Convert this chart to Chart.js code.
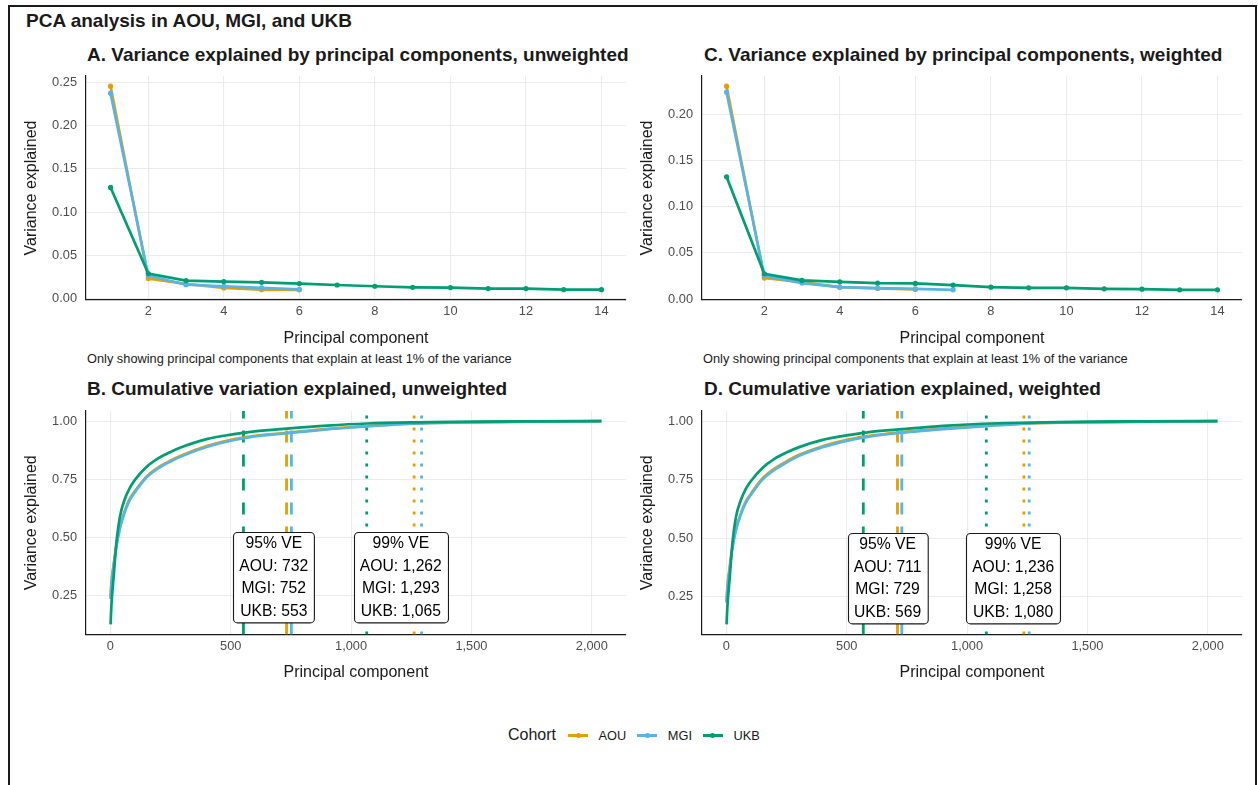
<!DOCTYPE html>
<html>
<head>
<meta charset="utf-8">
<title>PCA analysis in AOU, MGI, and UKB</title>
<script src="https://cdn.jsdelivr.net/npm/chart.js@4.4.1/dist/chart.umd.min.js"></script>
<style>
    html, body { margin: 0; padding: 0; background: #fff; }
    body {
        width: 1258px; height: 785px; position: relative; overflow: hidden;
        font-family: "Liberation Sans", Arial, sans-serif; color: #1a1a1a;
    }
    .frame {
        position: absolute; left: 8px; top: 5px; width: 1249px; height: 820px;
        border: 2px solid #1a1a1a; box-sizing: border-box;
    }
    .txt { position: absolute; white-space: nowrap; }
    .main-title { left: 26px; top: 10px; font-size: 19px; font-weight: bold; line-height: 22px; }
    .panel-title { font-size: 19px; font-weight: bold; line-height: 22px; }
    .note { font-size: 12.8px; line-height: 16px; }
    canvas { position: absolute; }
    .legend {
        position: absolute; left: 508px; top: 724px; height: 22px;
        display: flex; align-items: center;
    }
    .legend .leg-title { font-size: 16px; margin-right: 12px; }
    .legend .leg-label { font-size: 12.8px; margin-right: 11px; }
    .legend .key { position: relative; width: 20px; height: 3px; margin-right: 10.5px; }
    .legend .key i {
        position: absolute; left: 7.5px; top: -1px; width: 5px; height: 5px;
        border-radius: 50%; background: inherit;
    }
</style>
</head>
<body>
<div class="frame"></div>
<div class="txt main-title">PCA analysis in AOU, MGI, and UKB</div>

<div class="txt panel-title" style="left:87px; top:44px;">A. Variance explained by principal components, unweighted</div>
<div class="txt panel-title" style="left:704px; top:44px;">C. Variance explained by principal components, weighted</div>
<div class="txt note" style="left:87px; top:351px;">Only showing principal components that explain at least 1% of the variance</div>
<div class="txt note" style="left:703px; top:351px;">Only showing principal components that explain at least 1% of the variance</div>
<div class="txt panel-title" style="left:87px; top:378px;">B. Cumulative variation explained, unweighted</div>
<div class="txt panel-title" style="left:704px; top:378px;">D. Cumulative variation explained, weighted</div>

<canvas id="chart-a" width="622" height="282" style="left:18px; top:70px;"></canvas>
<canvas id="chart-c" width="622" height="282" style="left:634px; top:70px;"></canvas>
<canvas id="chart-b" width="622" height="281" style="left:18px; top:405px;"></canvas>
<canvas id="chart-d" width="622" height="281" style="left:634px; top:405px;"></canvas>

<div class="legend" id="legend"><span class="leg-title">Cohort</span></div>

<script>
// ---------- data ----------
const cohorts = ['AOU', 'MGI', 'UKB'];
const cohortColors = ['#E69F00', '#56B4E9', '#009E73'];

// A. variance explained per PC, unweighted (PC 1..n)
const screeUnwAOU = [0.2457, 0.0232, 0.0170, 0.0124, 0.0104, 0.0102];
const screeUnwMGI = [0.2376, 0.0265, 0.0162, 0.0143, 0.0124, 0.0108];
const screeUnwUKB = [0.1286, 0.0290, 0.0209, 0.0197, 0.0189, 0.0174, 0.0158,
                     0.0143, 0.0131, 0.0128, 0.0116, 0.0116, 0.0104, 0.0104];

// C. variance explained per PC, weighted
const screeWAOU = [0.2304, 0.0228, 0.0184, 0.0130, 0.0116, 0.0105];
const screeWMGI = [0.2239, 0.0253, 0.0174, 0.0130, 0.0119, 0.0112, 0.0101];
const screeWUKB = [0.1324, 0.0275, 0.0203, 0.0188, 0.0174, 0.0170, 0.0152,
                   0.0130, 0.0123, 0.0123, 0.0112, 0.0108, 0.0101, 0.0101];

// B / D. cumulative variance explained, read at these PCs
const cumPCs = [1, 5, 14, 25, 40, 60, 80, 100, 150, 200, 250, 300, 400, 500,
                600, 732, 900, 1065, 1262, 1500, 1750, 2040];
const cumUnwAOU = [0.245, 0.309, 0.385, 0.465, 0.545, 0.615, 0.665, 0.697, 0.762, 0.802, 0.831,
                   0.855, 0.893, 0.920, 0.937, 0.950, 0.967, 0.979, 0.990, 0.995, 0.998, 1.000];
const cumUnwMGI = [0.236, 0.308, 0.380, 0.460, 0.540, 0.610, 0.660, 0.692, 0.758, 0.798, 0.827,
                   0.851, 0.889, 0.916, 0.934, 0.948, 0.965, 0.977, 0.989, 0.995, 0.998, 1.000];
const cumUnwUKB = [0.128, 0.217, 0.334, 0.475, 0.590, 0.665, 0.712, 0.745, 0.803, 0.841, 0.868,
                   0.890, 0.923, 0.942, 0.956, 0.968, 0.981, 0.990, 0.995, 0.998, 0.9995, 1.000];
const cumWAOU = [0.230, 0.295, 0.375, 0.460, 0.540, 0.605, 0.655, 0.687, 0.755, 0.797, 0.828,
                 0.855, 0.893, 0.920, 0.938, 0.953, 0.968, 0.980, 0.9905, 0.995, 0.998, 1.000];
const cumWMGI = [0.224, 0.292, 0.370, 0.455, 0.535, 0.600, 0.650, 0.682, 0.750, 0.792, 0.823,
                 0.851, 0.889, 0.916, 0.935, 0.951, 0.966, 0.978, 0.9905, 0.995, 0.998, 1.000];
const cumWUKB = [0.132, 0.217, 0.329, 0.475, 0.590, 0.662, 0.709, 0.741, 0.800, 0.839, 0.866,
                 0.888, 0.920, 0.939, 0.954, 0.966, 0.980, 0.989, 0.994, 0.998, 0.9995, 1.000];

// PCs needed to reach 95% / 99% of variance (AOU, MGI, UKB)
const cut95Unw = [732, 752, 553];
const cut99Unw = [1262, 1293, 1065];
const cut95W = [711, 729, 569];
const cut99W = [1236, 1258, 1080];

// tick marks
const screeXTicks = [2, 4, 6, 8, 10, 12, 14];
const screeUnwYTicks = [0, 0.05, 0.10, 0.15, 0.20, 0.25];
const screeWYTicks = [0, 0.05, 0.10, 0.15, 0.20];
const cumXTicks = [0, 500, 1000, 1500, 2000];
const cumYTicks = [0.25, 0.50, 0.75, 1.00];

// ---------- shared style ----------
const FONT = '"Liberation Sans", Arial, sans-serif';
Chart.defaults.font.family = FONT;
Chart.defaults.animation = false;

// ggplot-like expansion: 5% of the data range on both sides
function expand(values) {
    const lo = Math.min(...values), hi = Math.max(...values);
    const pad = (hi - lo) * 0.05;
    return { min: lo - pad, max: hi + pad };
}

function fixedTicks(values) {
    return (scale) => { scale.ticks = values.map((v) => ({ value: v })); };
}

// fixed axis size, and no extra padding for labels near the edges
function fitAxis(size, isX) {
    return (s) => {
        if (isX) s.height = size; else s.width = size;
        s.paddingTop = s.paddingBottom = s.paddingLeft = s.paddingRight = 0;
    };
}

function axis(range, ticks, fmt, title, fitSize, isX) {
    return {
        type: 'linear',
        min: range.min,
        max: range.max,
        afterBuildTicks: fixedTicks(ticks),
        afterFit: fitAxis(fitSize, isX),
        grid: { color: '#EBEBEB', lineWidth: 1.1, drawTicks: false },
        border: { display: true, color: '#1a1a1a', width: 1.2 },
        ticks: {
            color: '#4D4D4D', font: { size: 12.8 }, padding: isX ? 4 : 9,
            autoSkip: false, maxRotation: 0, callback: fmt
        },
        title: {
            display: true, text: title, color: '#1a1a1a', font: { size: 16 },
            padding: isX ? { top: 0, bottom: 3.4 } : { top: 4, bottom: 0 }
        }
    };
}

const fmt2 = (v) => v.toFixed(2);
const fmtInt = (v) => v.toLocaleString('en-US');
const toPoints = (xs, ys) => ys.map((y, i) => ({ x: xs[i], y: y }));
const seq = (n) => Array.from({ length: n }, (_, i) => i + 1);
const mean = (arr) => arr.reduce((a, b) => a + b, 0) / arr.length;

// ---- 95% / 99% label boxes ----
const veLabels = {
    id: 'veLabels',
    afterDatasetsDraw(chart, args, opts) {
        const { ctx } = chart;
        const x = chart.scales.x, y = chart.scales.y;
        const lineH = 22.6;
        ctx.save();
        ctx.font = '15.7px ' + FONT;
        ctx.textAlign = 'center';
        ctx.textBaseline = 'middle';
        opts.boxes.forEach((box) => {
            const lines = [box.title].concat(cohorts.map((c, i) => `${c}: ${fmtInt(box.values[i])}`));
            const w = Math.max(...lines.map((l) => ctx.measureText(l).width)) + 12;
            const h = lines.length * lineH;
            const cx = x.getPixelForValue(mean(box.values));
            const cy = y.getPixelForValue(opts.yValue);
            const l = Math.round(cx - w / 2) + 0.5, t = Math.round(cy - h / 2) + 0.5, r = 4;
            ctx.beginPath();
            ctx.moveTo(l + r, t);
            ctx.arcTo(l + w, t, l + w, t + h, r);
            ctx.arcTo(l + w, t + h, l, t + h, r);
            ctx.arcTo(l, t + h, l, t, r);
            ctx.arcTo(l, t, l + w, t, r);
            ctx.closePath();
            ctx.fillStyle = '#fff';
            ctx.fill();
            ctx.lineWidth = 1.1;
            ctx.strokeStyle = '#1a1a1a';
            ctx.stroke();
            ctx.fillStyle = '#000';
            lines.forEach((line, i) => ctx.fillText(line, cx, t + lineH / 2 + i * lineH));
        });
        ctx.restore();
    }
};

// ---- scree charts (A, C) ----
function makeScree(id, series, yTicks) {
    const all = [].concat(...series);
    const maxLen = Math.max(...series.map((s) => s.length));
    const datasets = series.map((vals, i) => ({
        data: toPoints(seq(vals.length), vals),
        borderColor: cohortColors[i],
        backgroundColor: cohortColors[i],
        borderWidth: 2.7,
        pointRadius: 2.6,
        pointBorderWidth: 0,
        order: 3 - i
    }));
    return new Chart(document.getElementById(id), {
        type: 'line',
        data: { datasets },
        options: {
            responsive: false,
            devicePixelRatio: 1,
            layout: { padding: { top: 6, right: 14, left: 0, bottom: 0 } },
            plugins: { legend: { display: false }, tooltip: { enabled: false } },
            scales: {
                x: axis(expand([1, maxLen]), screeXTicks, fmtInt, 'Principal component', 52, true),
                y: axis(expand(all), yTicks, fmt2, 'Variance explained', 68, false)
            }
        }
    });
}

// ---- cumulative charts (B, D) ----
function makeCumulative(id, series, cut95, cut99) {
    const yRange = expand([].concat(...series));
    const datasets = series.map((vals, i) => ({
        data: toPoints(cumPCs, vals),
        borderColor: cohortColors[i],
        borderWidth: 2.7,
        pointRadius: 0,
        cubicInterpolationMode: 'monotone',
        order: 3 - i
    }));
    // vertical reference lines: dashed = 95%, dotted = 99%
    [[cut95, [12, 12]], [cut99, [3, 9]]].forEach(([cuts, dash]) => {
        cuts.forEach((c, i) => {
            datasets.push({
                data: [{ x: c, y: yRange.min }, { x: c, y: yRange.max }],
                borderColor: cohortColors[i],
                borderWidth: 2.8,
                borderDash: dash,
                borderCapStyle: 'butt',
                pointRadius: 0,
                order: 10
            });
        });
    });
    return new Chart(document.getElementById(id), {
        type: 'line',
        data: { datasets },
        plugins: [veLabels],
        options: {
            responsive: false,
            devicePixelRatio: 1,
            layout: { padding: { top: 6, right: 14, left: 0, bottom: 0 } },
            plugins: {
                legend: { display: false },
                tooltip: { enabled: false },
                veLabels: {
                    yValue: 0.33,
                    boxes: [
                        { title: '95% VE', values: cut95 },
                        { title: '99% VE', values: cut99 }
                    ]
                }
            },
            scales: {
                x: axis(expand([cumPCs[0], cumPCs[cumPCs.length - 1]]), cumXTicks, fmtInt, 'Principal component', 51.5, true),
                y: axis(yRange, cumYTicks, fmt2, 'Variance explained', 68, false)
            }
        }
    });
}

makeScree('chart-a', [screeUnwAOU, screeUnwMGI, screeUnwUKB], screeUnwYTicks);
makeScree('chart-c', [screeWAOU, screeWMGI, screeWUKB], screeWYTicks);
makeCumulative('chart-b', [cumUnwAOU, cumUnwMGI, cumUnwUKB], cut95Unw, cut99Unw);
makeCumulative('chart-d', [cumWAOU, cumWMGI, cumWUKB], cut95W, cut99W);

// ---- legend ----
const legendEl = document.getElementById('legend');
cohorts.forEach((name, i) => {
    const key = document.createElement('span');
    key.className = 'key';
    key.style.background = cohortColors[i];
    key.appendChild(document.createElement('i'));
    const label = document.createElement('span');
    label.className = 'leg-label';
    label.textContent = name;
    legendEl.appendChild(key);
    legendEl.appendChild(label);
});
</script>
</body>
</html>
